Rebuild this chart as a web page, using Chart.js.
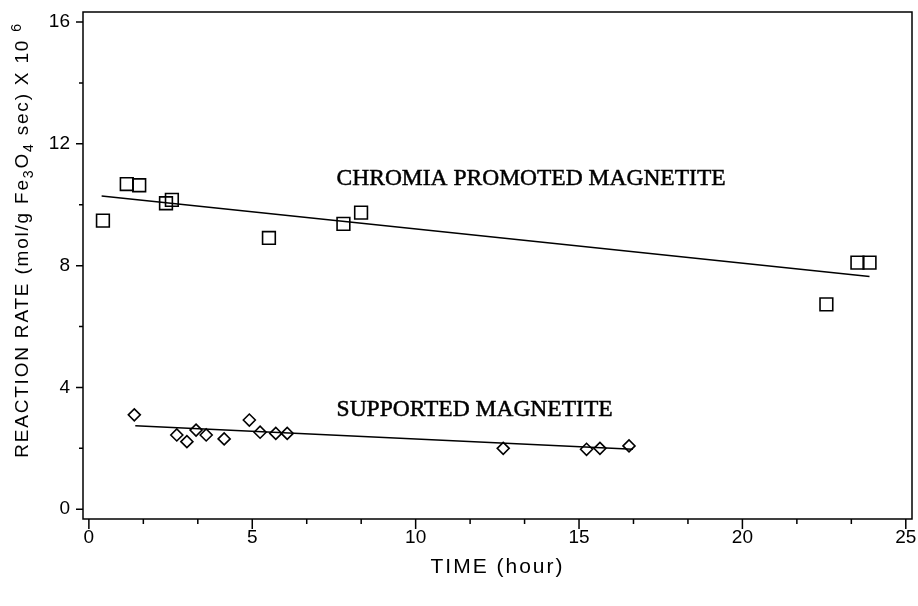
<!DOCTYPE html>
<html lang="en">
<head>
<meta charset="UTF-8">
<title>Reaction rate vs time</title>
<script src="https://cdn.jsdelivr.net/npm/chart.js"></script>
<style>
  html, body { margin: 0; padding: 0; background: #fff; }
  .janela { width: 918px; height: 606px; }
</style>
</head>
<body>
<div class="janela"><canvas id="grafico"></canvas></div>
<script>
// values
const chromiaTime = [0.43, 1.16, 1.54, 2.36, 2.54, 5.51, 7.79, 8.33, 22.57, 23.52, 23.89];
const chromiaRate = [9.48, 10.68, 10.64, 10.05, 10.16, 8.91, 9.37, 9.74, 6.73, 8.10, 8.10];
const chromiaFitTime = [0.39, 23.89];
const chromiaFitRate = [10.29, 7.64];

const supportedTime = [1.39, 2.69, 3.00, 3.28, 3.59, 4.14, 4.91, 5.24, 5.72, 6.07, 12.68, 15.23, 15.64, 16.53];
const supportedRate = [3.10, 2.44, 2.22, 2.60, 2.44, 2.31, 2.93, 2.53, 2.49, 2.49, 2.00, 1.97, 2.00, 2.08];
const supportedFitTime = [1.42, 16.65];
const supportedFitRate = [2.74, 1.97];

const xTicks = [0, 5, 10, 15, 20, 25];
const yTicks = [0, 4, 8, 12, 16];

const seriesLabels = ['CHROMIA PROMOTED MAGNETITE', 'SUPPORTED MAGNETITE'];
const xTitle = 'TIME (hour)';
// pieces of the y title: 0 normal, 1 subscript, -1 superscript
const yTitle = [['REACTION RATE (mol/g Fe', 0], ['3', 1], ['O', 0], ['4', 1], [' sec) X 10 ', 0], ['6', -1]];

function pontos(xs, ys) {
    var out = [];
    for (var i = 0; i < xs.length; i++) {
        out.push({ x: xs[i], y: ys[i] });
    }
    return out;
}

const sansFont = '"Liberation Sans", Arial, sans-serif';
const serifFont = '"Liberation Serif", "DejaVu Serif", serif';

// frame, tick marks and text drawn on top of the chart
const moldura = {
    id: 'moldura',
    afterDraw(chart) {
        const ctx = chart.ctx;
        const a = chart.chartArea;
        const sx = chart.scales.x;
        const sy = chart.scales.y;
        ctx.save();
        ctx.strokeStyle = '#000';
        ctx.lineWidth = 1.5;
        ctx.strokeRect(a.left, a.top, a.right - a.left, a.bottom - a.top);

        ctx.beginPath();
        for (var i = 0; i < xTicks.length; i++) {
            var px = sx.getPixelForValue(xTicks[i]);
            ctx.moveTo(px, a.bottom);
            ctx.lineTo(px, a.bottom + 10);
            if (i < xTicks.length - 1) {
                var step = (xTicks[i + 1] - xTicks[i]) / 3;
                for (var k = 1; k < 3; k++) {
                    var pm = sx.getPixelForValue(xTicks[i] + k * step);
                    ctx.moveTo(pm, a.bottom);
                    ctx.lineTo(pm, a.bottom + 5);
                }
            }
        }
        for (var j = 0; j < yTicks.length; j++) {
            var py = sy.getPixelForValue(yTicks[j]);
            ctx.moveTo(a.left, py);
            ctx.lineTo(a.left - 7, py);
            if (j < yTicks.length - 1) {
                var pmy = sy.getPixelForValue((yTicks[j] + yTicks[j + 1]) / 2);
                ctx.moveTo(a.left, pmy);
                ctx.lineTo(a.left - 4, pmy);
            }
        }
        ctx.stroke();

        // series labels
        ctx.fillStyle = '#000';
        ctx.strokeStyle = '#000';
        ctx.lineWidth = 0.5;
        ctx.font = '23.5px ' + serifFont;
        ctx.textAlign = 'left';
        ctx.textBaseline = 'middle';
        var lx = sx.getPixelForValue(7.58);
        var ly1 = sy.getPixelForValue(10.85);
        var ly2 = sy.getPixelForValue(3.26);
        ctx.fillText(seriesLabels[0], lx, ly1);
        ctx.strokeText(seriesLabels[0], lx, ly1);
        ctx.fillText(seriesLabels[1], lx, ly2);
        ctx.strokeText(seriesLabels[1], lx, ly2);

        // x title
        ctx.font = '21px ' + sansFont;
        ctx.letterSpacing = '2px';
        ctx.textAlign = 'center';
        ctx.fillText(xTitle, (a.left + a.right) / 2, 567);

        // y title with sub/superscripts
        ctx.letterSpacing = '1.8px';
        ctx.translate(23, 240);
        ctx.rotate(-Math.PI / 2);
        ctx.textAlign = 'left';
        var total = 0;
        var larg = [];
        for (var p = 0; p < yTitle.length; p++) {
            ctx.font = (yTitle[p][1] === 0 ? 19 : 14) + 'px ' + sansFont;
            larg.push(ctx.measureText(yTitle[p][0]).width);
            total += larg[p];
        }
        var cx = -total / 2;
        for (var q = 0; q < yTitle.length; q++) {
            ctx.font = (yTitle[q][1] === 0 ? 19 : 14) + 'px ' + sansFont;
            ctx.fillText(yTitle[q][0], cx, yTitle[q][1] * 6);
            cx += larg[q];
        }
        ctx.restore();
    }
};

const ctx = document.getElementById('grafico').getContext('2d');
const grafico = new Chart(ctx, {
    type: 'scatter',
    data: {
        datasets: [
            {
                label: seriesLabels[0],
                data: pontos(chromiaTime, chromiaRate),
                pointStyle: 'rect',
                pointRadius: 9,
                borderColor: '#000',
                borderWidth: 1.6,
                backgroundColor: 'rgba(0,0,0,0)'
            },
            {
                label: 'chromia fit',
                data: pontos(chromiaFitTime, chromiaFitRate),
                showLine: true,
                pointRadius: 0,
                borderColor: '#000',
                borderWidth: 1.5
            },
            {
                label: seriesLabels[1],
                data: pontos(supportedTime, supportedRate),
                pointStyle: 'rectRot',
                pointRadius: 6,
                borderColor: '#000',
                borderWidth: 1.6,
                backgroundColor: 'rgba(0,0,0,0)'
            },
            {
                label: 'supported fit',
                data: pontos(supportedFitTime, supportedFitRate),
                showLine: true,
                pointRadius: 0,
                borderColor: '#000',
                borderWidth: 1.5
            }
        ]
    },
    options: {
        responsive: true,
        maintainAspectRatio: false,
        animation: false,
        layout: { autoPadding: false, padding: { top: 12, right: 6, left: 0, bottom: 0 } },
        plugins: {
            legend: { display: false },
            tooltip: { enabled: false }
        },
        scales: {
            x: {
                type: 'linear',
                min: -0.18,
                max: 25.19,
                afterBuildTicks: function (s) { s.ticks = xTicks.map(v => ({ value: v })); },
                afterFit: function (s) {
                    s.height = 87;
                    s.paddingLeft = 0;
                    s.paddingRight = 0;
                },
                grid: { display: false, drawTicks: false },
                border: { display: false },
                ticks: {
                    color: '#000',
                    font: { family: sansFont, size: 19 },
                    padding: 7,
                    maxRotation: 0
                }
            },
            y: {
                type: 'linear',
                min: -0.32,
                max: 16.33,
                afterBuildTicks: function (s) { s.ticks = yTicks.map(v => ({ value: v })); },
                afterFit: function (s) {
                    s.width = 83;
                    s.paddingTop = 0;
                    s.paddingBottom = 0;
                },
                grid: { display: false, drawTicks: false },
                border: { display: false },
                ticks: {
                    color: '#000',
                    font: { family: sansFont, size: 19 },
                    padding: 13
                }
            }
        }
    },
    plugins: [moldura]
});
</script>
</body>
</html>
